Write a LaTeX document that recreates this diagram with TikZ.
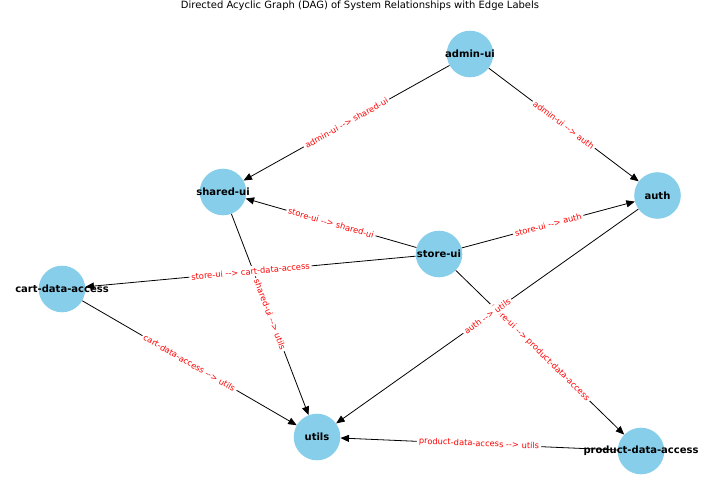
\documentclass[tikz,border=0pt]{standalone}
\usepackage{fontspec}
\setmainfont{DejaVu Sans}
\usetikzlibrary{arrows.meta}
\definecolor{skyblue}{HTML}{87CEEB}
\begin{document}
\begin{tikzpicture}[x=1pt,y=-1pt,
  vert/.style={circle, fill=skyblue, minimum size=46.6pt, inner sep=0pt},
  vlabel/.style={font=\fontsize{10}{12}\selectfont\bfseries, inner sep=0pt},
  edge/.style={-{Triangle[length=8.5pt,width=7pt]}, line width=0.8pt, black},
  elabel/.style={sloped, midway, fill=white, rounded corners=2pt, inner sep=2pt, text=red, font=\fontsize{8.3}{10}\selectfont}
]
\useasboundingbox (0,0) rectangle (720,493);
\node[font=\fontsize{10}{12}\selectfont] (title) at (360,5.5) {Directed Acyclic Graph (DAG) of System Relationships with Edge Labels};

% vertices
\node[vert] (admin) at (470,54) {};
\node[vert] (auth) at (657.5,195.5) {};
\node[vert] (shared) at (223,192) {};
\node[vert] (store) at (439,254) {};
\node[vert] (cart) at (62,289) {};
\node[vert] (utils) at (317,437) {};
\node[vert] (product) at (641,451) {};

% edges
\draw[edge] (admin) -- (shared);
\draw[edge] (admin) -- (auth);
\draw[edge] (store) -- (shared);
\draw[edge] (store) -- (auth);
\draw[edge] (store) -- (cart);
\draw[edge] (store) -- (product);
\draw[edge] (shared) -- (utils);
\draw[edge] (cart) -- (utils);
\draw[edge] (auth) -- (utils);
\draw[edge] (product) -- (utils);

% edge labels
\path (admin) -- (shared) node[elabel] {admin-ui -{}-> shared-ui};
\path (admin) -- (auth) node[elabel] {admin-ui -{}-> auth};
\path (store) -- (shared) node[elabel] {store-ui -{}-> shared-ui};
\path (store) -- (auth) node[elabel] {store-ui -{}-> auth};
\path (store) -- (cart) node[elabel] {store-ui -{}-> cart-data-access};
\path (store) -- (product) node[elabel] {store-ui -{}-> product-data-access};
\path (shared) -- (utils) node[elabel] {shared-ui -{}-> utils};
\path (cart) -- (utils) node[elabel] {cart-data-access -{}-> utils};
\path (auth) -- (utils) node[elabel] {auth -{}-> utils};
\path (product) -- (utils) node[elabel] {product-data-access -{}-> utils};

% vertex labels
\node[vlabel] (admint) at (admin) {admin-ui};
\node[vlabel] (autht) at (auth) {auth};
\node[vlabel] (sharedt) at (shared) {shared-ui};
\node[vlabel] (storet) at (store) {store-ui};
\node[vlabel] (cartt) at (cart) {cart-data-access};
\node[vlabel] (utilst) at (utils) {utils};
\node[vlabel] (productt) at (product) {product-data-access};
\end{tikzpicture}
\end{document}
